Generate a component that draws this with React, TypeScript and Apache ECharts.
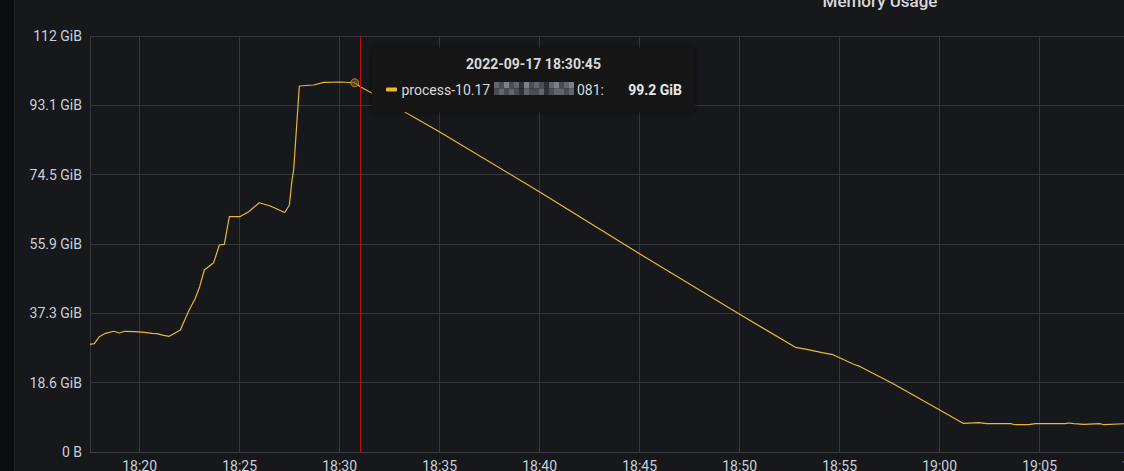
import React, { useEffect, useRef } from "react";
import * as echarts from "echarts";

// ---- data ----
const DAY = [2022, 8, 17];
const times = [
  "18:17:31", "18:17:44", "18:17:59", "18:18:17", "18:18:42", "18:18:59", "18:19:15", "18:19:47",
  "18:20:15", "18:20:37", "18:20:52", "18:21:12", "18:21:29", "18:22:02", "18:22:27", "18:22:47",
  "18:23:00", "18:23:14", "18:23:42", "18:23:59", "18:24:14", "18:24:29", "18:25:00", "18:25:27",
  "18:25:59", "18:26:32", "18:27:15", "18:27:29", "18:27:37", "18:27:42", "18:27:59", "18:28:42",
  "18:29:12", "18:30:02", "18:30:45", "18:31:02", "18:31:32", "18:33:22", "18:34:59", "18:39:59",
  "18:45:02", "18:49:55", "18:52:47", "18:53:22", "18:54:07", "18:54:40", "18:55:42", "18:56:02",
  "18:57:42", "18:59:55", "19:01:10", "19:01:57", "19:02:22", "19:03:32", "19:03:47", "19:04:27",
  "19:04:47", "19:06:17", "19:06:27", "19:06:42", "19:07:12", "19:08:02", "19:08:12", "19:09:14",
  "19:09:30",
];
// memory in GiB
const valuesGiB = [
  28.93, 29.09, 30.98, 31.89, 32.43, 31.97, 32.43, 32.32,
  32.16, 31.89, 31.78, 31.35, 31.08, 32.78, 37.88, 41.29,
  44.41, 48.89, 50.86, 55.61, 55.8, 63.21, 63.21, 64.56,
  66.97, 66.09, 64.34, 66.3, 73.07, 75.76, 98.33, 98.59,
  99.32, 99.4, 99.2, 98.14, 96.63, 90.99, 86.05, 69.93,
  53.11, 37.26, 28.13, 27.59, 26.68, 26.14, 23.56, 22.92,
  18.27, 11.55, 7.71, 7.87, 7.6, 7.6, 7.33, 7.33,
  7.6, 7.6, 7.79, 7.6, 7.44, 7.6, 7.33, 7.6,
  7.6,
];
const seriesName = "process-10.17";
const seriesSuffix = "081:";
const title = "Memory Usage";
const hoverTime = "18:30:45";
const crosshairTime = "18:31:02";
const axisMinTime = "18:17:31";
const axisMaxTime = "19:12:00";
const yMaxBytes = 120e9;
const yStepBytes = 20e9;
// mosaic (blurred part of the series name), brightness levels per cell: two rows
const mosaicTop = [2, 1, 3, 1, 2, 0, 3, 1, 2, 1, 0, 2, 3, 1, 2, 3];
const mosaicBottom = [1, 2, 1, 2, 1, 0, 2, 1, 1, 2, 0, 1, 2, 2, 1, 2];

const GIB = 1024 * 1024 * 1024;
const ts = (hms: string) => {
  const [h, m, s] = hms.split(":").map(Number);
  return new Date(DAY[0], DAY[1], DAY[2], h, m, s).getTime();
};
const pad = (n: number) => String(n).padStart(2, "0");

export default function App() {
  const ref = useRef<HTMLDivElement>(null);
  useEffect(() => {
    if (!ref.current) return;
    const chart = echarts.init(ref.current, null, { renderer: "svg" });
    const data = times.map((t, i) => [ts(t), valuesGiB[i] * GIB]);
    const hi = times.indexOf(hoverTime);
    const hoverVal = valuesGiB[hi];
    const fmtY = (v: number) => (v === 0 ? "0 B" : (v / GIB).toPrecision(3) + " GiB");

    const mosaicShades = ["#303237", "#4a4c52", "#62656c", "#7d8088"];
    const mosaic: any[] = [];
    const cw = 5;
    mosaicTop.forEach((b, i) =>
      mosaic.push({ type: "rect", shape: { x: 494 + i * cw, y: 82, width: cw, height: 6.5 }, style: { fill: mosaicShades[b] }, z: 102 })
    );
    mosaicBottom.forEach((b, i) =>
      mosaic.push({ type: "rect", shape: { x: 494 + i * cw, y: 88.5, width: cw, height: 6.5 }, style: { fill: mosaicShades[b] }, z: 102 })
    );

    const dateStr = `${DAY[0]}-${pad(DAY[1] + 1)}-${pad(DAY[2])} ${hoverTime}`;

    chart.setOption({
      animation: false,
      backgroundColor: "transparent",
      textStyle: { fontFamily: "Roboto, 'Noto Sans', sans-serif" },
      grid: { left: 90, right: 20.33, top: 36, bottom: 19, containLabel: false, outerBoundsMode: "none" },
      xAxis: {
        type: "time",
        min: ts(axisMinTime),
        max: ts(axisMaxTime),
        minInterval: 7 * 60 * 1000,
        maxInterval: 7 * 60 * 1000,
        axisLine: { show: true, lineStyle: { color: "#3d3e43", width: 1 } },
        axisTick: { show: false },
        splitLine: { show: true, lineStyle: { color: "#35363b", width: 1 } },
        axisLabel: {
          color: "#c7d0d9",
          fontSize: 14,
          margin: 7,
          showMinLabel: false,
          showMaxLabel: true,
          hideOverlap: false,
          formatter: (v: number) => {
            const d = new Date(v);
            return `${pad(d.getHours())}:${pad(d.getMinutes())}`;
          },
        },
      },
      yAxis: {
        type: "value",
        min: 0,
        max: yMaxBytes,
        interval: yStepBytes,
        axisLine: { show: false },
        axisTick: { show: false },
        splitLine: { show: true, lineStyle: { color: "#35363b", width: 1 } },
        axisLabel: { color: "#c7d0d9", fontSize: 14, margin: 8, formatter: fmtY },
      },
      series: [
        {
          name: seriesName,
          type: "line",
          data,
          showSymbol: false,
          symbol: "none",
          lineStyle: { color: "#EAB839", width: 1.2 },
          itemStyle: { color: "#EAB839" },
          markLine: {
            silent: true,
            symbol: ["none", "none"],
            label: { show: false },
            lineStyle: { color: "#c00d0d", width: 1, type: "solid" },
            data: [{ xAxis: ts(crosshairTime) }],
          },
          markPoint: {
            silent: true,
            symbol: "circle",
            symbolSize: 8,
            label: { show: false },
            itemStyle: { color: "rgba(120,95,40,0.6)", borderColor: "#b08a30", borderWidth: 1 },
            data: [{ coord: [ts(hoverTime), hoverVal * GIB] }],
          },
        },
      ],
      graphic: [
        {
          type: "text",
          x: 880,
          y: 9,
          style: {
            text: title,
            fill: "#d8d9da",
            font: "500 17px Roboto, sans-serif",
            align: "center",
            verticalAlign: "bottom",
          },
          z: 100,
        },
        {
          type: "rect",
          shape: { x: 372, y: 48, width: 323, height: 64, r: 3 },
          style: { fill: "#141414", shadowBlur: 6, shadowColor: "rgba(0,0,0,0.5)" },
          z: 100,
        },
        {
          type: "text",
          x: 533.5,
          y: 64,
          style: {
            text: dateStr,
            fill: "#d8d9da",
            font: "bold 14px Roboto, sans-serif",
            align: "center",
            verticalAlign: "middle",
          },
          z: 101,
        },
        {
          type: "rect",
          shape: { x: 386, y: 87.5, width: 11, height: 4, r: 1 },
          style: { fill: "#EAB839" },
          z: 101,
        },
        {
          type: "text",
          x: 401.5,
          y: 89.5,
          style: {
            text: seriesName,
            fill: "#d8d9da",
            font: "14px Roboto, sans-serif",
            align: "left",
            verticalAlign: "middle",
          },
          z: 101,
        },
        {
          type: "text",
          x: 604,
          y: 89.5,
          style: {
            text: seriesSuffix,
            fill: "#d8d9da",
            font: "14px Roboto, sans-serif",
            align: "right",
            verticalAlign: "middle",
          },
          z: 101,
        },
        ...mosaic,
        {
          type: "text",
          x: 682,
          y: 89.5,
          style: {
            text: hoverVal.toFixed(1) + " GiB",
            fill: "#e6e7e8",
            font: "bold 14px Roboto, sans-serif",
            align: "right",
            verticalAlign: "middle",
          },
          z: 101,
        },
      ],
    });
    return () => chart.dispose();
  }, []);

  return (
    <div
      style={{
        position: "fixed",
        left: 0,
        top: 0,
        width: 1124,
        height: 471,
        overflow: "hidden",
        background: "#0b0c0e",
      }}
    >
      <div
        style={{
          position: "absolute",
          left: 14,
          top: 0,
          width: 1200,
          height: 471,
          background: "#17181c",
          borderLeft: "1px solid #222328",
        }}
      />
      <div ref={ref} style={{ position: "absolute", left: 0, top: 0, width: 1200, height: 471 }} />
    </div>
  );
}
